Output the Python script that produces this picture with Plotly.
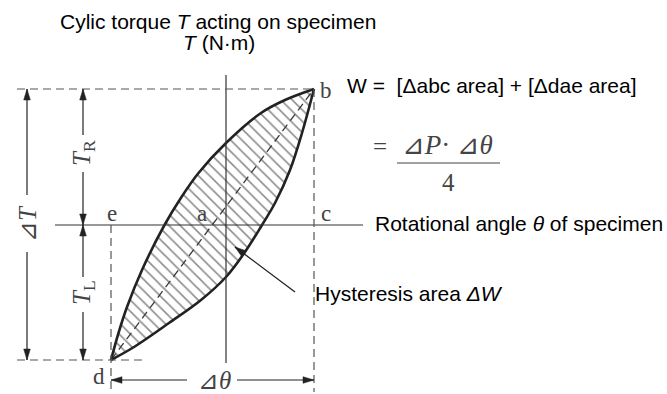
import math
import plotly.graph_objects as go

# Hysteresis loop of a specimen under cyclic torque (diagram units).
# Loading edge of the loop, from d up to b (upper-left side)
upper_theta = [-1.15, -1.075, -0.99, -0.84, -0.615, -0.445, -0.275, 0.00, 0.35, 0.59, 0.88]
upper_torque = [-1.35, -1.08, -0.82, -0.45, 0.00, 0.28, 0.52, 0.82, 1.12, 1.25, 1.36]
# Unloading edge of the loop, from d up to b (lower-right side)
lower_theta = [-1.15, -0.92, -0.57, -0.25, 0.00, 0.19, 0.36, 0.49, 0.64, 0.76, 0.88]
lower_torque = [-1.35, -1.22, -0.98, -0.75, -0.52, -0.27, 0.00, 0.22, 0.55, 0.92, 1.36]

theta_d = -1.15    # rotation at point d (and e)
theta_b = 0.88     # rotation at point b (and c)
torque_R = 1.36    # peak torque T_R at b
torque_L = -1.35   # peak torque T_L at d

point_labels = ["b", "e", "a", "c", "d"]

SANS = "Liberation Sans, Arial, sans-serif"
SERIF = "Liberation Serif, DejaVu Serif, DejaVu Sans, Noto Sans CJK JP, serif"
INK = "#222222"
GREY = "#444444"

fig = go.Figure()

# hatched area between the two branches
fig.add_trace(go.Scatter(x=lower_theta, y=lower_torque, mode="lines",
                         line=dict(width=0, shape="spline"), hoverinfo="skip"))
fig.add_trace(go.Scatter(x=upper_theta, y=upper_torque, mode="lines",
                         line=dict(width=0, shape="spline"), fill="tonexty",
                         fillcolor="white",
                         fillpattern=dict(shape="\\", size=8, solidity=0.2,
                                          fgcolor="#1e1e1e", bgcolor="white"),
                         hoverinfo="skip"))
# dashed chord d-b
fig.add_trace(go.Scatter(x=[theta_d, theta_b], y=[torque_L, torque_R], mode="lines",
                         line=dict(color="#3a3a3a", width=1.3, dash="8px,5px"),
                         hoverinfo="skip"))
# loop outline
for xs, ys in ((upper_theta, upper_torque), (lower_theta, lower_torque)):
    fig.add_trace(go.Scatter(x=xs, y=ys, mode="lines",
                             line=dict(color=INK, width=2.6, shape="spline"),
                             hoverinfo="skip"))

shapes = []


def seg(x0, y0, x1, y1, color=INK, width=1.2, dash=None):
    line = dict(color=color, width=width)
    if dash:
        line["dash"] = dash
    shapes.append(dict(type="line", xref="x", yref="y", x0=x0, y0=y0, x1=x1, y1=y1,
                       line=line, layer="above"))


def head(tx, ty, dx, dy, length=0.11, half=0.033):
    n = math.hypot(dx, dy)
    ux, uy = dx / n, dy / n
    bx, by = tx - ux * length, ty - uy * length
    px, py = -uy * half, ux * half
    path = (f"M {tx},{ty} L {bx + px},{by + py} L {bx - px},{by - py} Z")
    shapes.append(dict(type="path", xref="x", yref="y", path=path,
                       fillcolor=INK, line=dict(color=INK, width=0.5), layer="above"))


DASH = "8px,5px"
# coordinate axes
seg(-1.71, 0, 1.37, 0, color="#333333", width=1.2)
seg(0, 1.50, 0, -1.38, color="#333333", width=1.2)
# dashed projection lines
seg(-2.09, torque_R, theta_b, torque_R, color="#555555", dash=DASH)
seg(-2.09, torque_L, -0.81, torque_L, color="#555555", dash=DASH)
seg(theta_b, torque_R, theta_b, -1.67, color="#555555", dash=DASH)
seg(theta_d, 0, theta_d, -1.67, color="#555555", dash=DASH)

# dimension ΔT
xdT = -1.99
seg(xdT, torque_R, xdT, 0.30)
seg(xdT, -0.27, xdT, torque_L)
head(xdT, torque_R, 0, 1)
head(xdT, torque_L, 0, -1)
# dimensions T_R and T_L
xTR = -1.43
seg(xTR, torque_R, xTR, 0.90)
seg(xTR, 0.53, xTR, 0)
head(xTR, torque_R, 0, 1)
head(xTR, 0, 0, -1)
seg(xTR, 0, xTR, -0.52)
seg(xTR, -0.87, xTR, torque_L)
head(xTR, 0, 0, 1)
head(xTR, torque_L, 0, -1)
# dimension Δθ
ydt = -1.55
seg(theta_d, ydt, -0.39, ydt)
seg(0.11, ydt, theta_b, ydt)
head(theta_d, ydt, -1, 0)
head(theta_b, ydt, 1, 0)
# leader to the hysteresis area
seg(0.69, -0.67, 0.09, -0.22, width=1.3)
head(0.09, -0.22, -0.60, 0.45, length=0.11, half=0.036)
# fraction bar
seg(1.71, 0.62, 2.74, 0.62, color=GREY, width=1.2)

ann = []


def text(x, y, s, size, family=SANS, color="black", xanchor="center", angle=0):
    ann.append(dict(x=x, y=y, xref="x", yref="y", text=s, showarrow=False,
                    xanchor=xanchor, yanchor="middle", textangle=angle,
                    font=dict(family=family, size=size, color=color)))


text(-0.08, 2.04, "Cylic torque <i>T</i> acting on specimen", 21)
text(-0.075, 1.83, "<i>T</i> (N·m)", 21)
text(1.19, 1.40, "W =\u00a0 [Δabc area] + [Δdae area]", 21, xanchor="left")
text(1.47, 0.02, "Rotational angle <i>θ</i> of specimen", 21, xanchor="left")
text(0.87, -0.68, "Hysteresis area <i>ΔW</i>", 21, xanchor="left")

# point labels b, e, a, c, d
label_pos = [(1.00, 1.35), (-1.14, 0.12), (-0.24, 0.12), (1.00, 0.12), (-1.27, -1.51)]
for name, (lx, ly) in zip(point_labels, label_pos):
    text(lx, ly, name, 23, family=SERIF, color=GREY)

text(xdT, 0.01, "⊿<i>T</i>", 25, family=SERIF, color=GREY, angle=-90)
text(xTR, 0.72, "<i>T</i><sub>R</sub>", 25, family=SERIF, color=GREY, angle=-90)
text(xTR, -0.68, "<i>T</i><sub>L</sub>", 25, family=SERIF, color=GREY, angle=-90)
text(-0.12, ydt, "⊿<i>θ</i>", 25, family=SERIF, color=GREY)

text(1.54, 0.79, "=", 25, family=SERIF, color=GREY)
text(2.21, 0.80, "⊿<i>P</i>· ⊿<i>θ</i>", 27, family=SERIF, color=GREY)
text(2.22, 0.43, "4", 25, family=SERIF, color=GREY)

fig.update_layout(
    width=667, height=394,
    margin=dict(l=0, r=0, t=0, b=0),
    paper_bgcolor="white", plot_bgcolor="white",
    showlegend=False,
    xaxis=dict(range=[-2.26, 4.41], visible=False, fixedrange=True),
    yaxis=dict(range=[-1.69, 2.25], visible=False, fixedrange=True),
    shapes=shapes, annotations=ann,
)

fig.write_html("out.html")
